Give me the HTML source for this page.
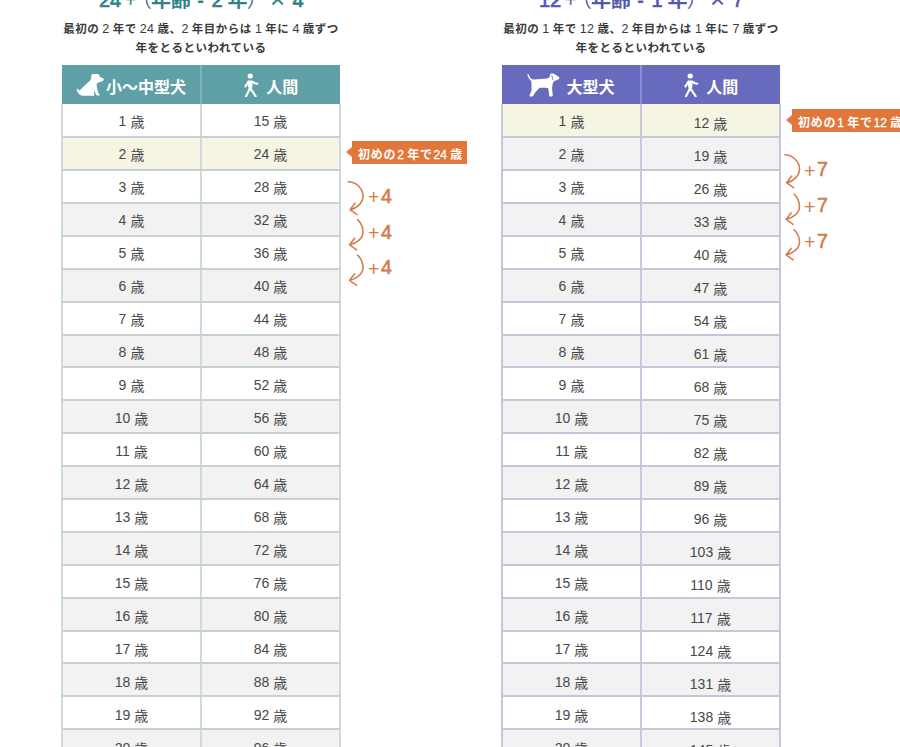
<!DOCTYPE html>
<html lang="ja"><head><meta charset="utf-8"><title>犬の年齢換算表</title>
<style>
*{box-sizing:border-box;margin:0;padding:0}
html,body{width:900px;height:747px;overflow:hidden;background:#fff}
body{position:relative;font-family:"Liberation Sans", "Noto Sans CJK JP", sans-serif;color:#444}
.panel{position:absolute;top:0;width:280px;height:747px}
.p1{left:61px} .p2{left:501px}
.ttl{position:absolute;left:0;top:0;width:280px;height:20px}
.ttl b{position:absolute;top:-10px;font-size:20px;line-height:20px;font-weight:bold;white-space:nowrap}
.ttl b.n{font-weight:normal}
.ttl b.d{font-weight:normal;-webkit-text-stroke:0.7px currentColor}
.ttl b.x{font-size:26px;top:-11px}
.ttl b.m{top:-10.5px}
.p1 .ttl{color:#337f8a} .p2 .ttl{color:#5558ad}
.sub i{font-style:normal;font-weight:400;font-size:12.5px;letter-spacing:0.3px}
.sub{position:absolute;left:-40px;width:360px;top:20px;text-align:center;font-size:11.5px;font-weight:700;line-height:18.5px;color:#3a3a3a;letter-spacing:0.5px;word-spacing:-0.6px;white-space:nowrap}
.tbl{position:absolute;left:0;top:65px;width:280px;height:700px}
.hd{position:absolute;left:1px;top:0;width:278px;height:39px}
.p1 .hd{background:#5fa0a7} .p2 .hd{background:#686abd}
.hd i{position:absolute;left:138px;top:0;width:2px;height:39px}
.p1 .hd i{background:#7db5bd} .p2 .hd i{background:#8a8fd8}
.th{position:absolute;top:0;height:39px;display:flex;align-items:center;justify-content:center;color:#fff;font-size:16px;font-weight:700;letter-spacing:0}
.th.c1{left:0;width:138px} .th.c2{left:140px;width:138px}
.th svg{flex:none}
.dogS{margin-right:2px} .walk{margin-right:7.5px} .dogL{margin-right:6px}
.th span{position:relative;top:1px}
.r{position:absolute;left:0;width:280px;border-top:2px solid;border-left:2px solid;border-right:2px solid}
.r.f{border-top:0}
.p1 .r{border-color:#c6d2d1} .p2 .r{border-color:#c6c6d8}
.p1 .r{border-left-color:#ccdadb;border-right-color:#ccdadb} .p2 .r{border-left-color:#c6c6de;border-right-color:#c6c6de}
.r.w{background:#fff} .r.g{background:#f2f2f2} .r.c{background:#f6f5e4}
.r i{position:absolute;left:137px;top:0;width:2px;height:100%}
.p1 .r i{background:#d0dadc} .p2 .r i{background:#c8c8de}
.t{position:absolute;height:24px;display:flex;align-items:center;justify-content:center;font-size:14px;line-height:24px;color:#484848;white-space:nowrap}
.t em{font-style:normal;position:relative;top:-1px}
.t.a{left:2px;width:137px} .t.b{left:141px;width:137px}
.p2 .t.b{margin-top:2px}
.t s{display:inline-block;width:4px}
.call{position:absolute;height:23px;background:#e1773b;color:#fff;font-size:12px;font-weight:bold;line-height:28.5px;padding-left:6px;white-space:nowrap;letter-spacing:0.8px}
.call u{text-decoration:none;letter-spacing:0;margin:0 3.3px 0 0.8px;font-weight:normal;-webkit-text-stroke:0.3px #fff}
.call:before{content:"";position:absolute;left:-6px;top:6px;border-right:6px solid #e1773b;border-top:5.5px solid transparent;border-bottom:5.5px solid transparent}
.plus{position:absolute;color:#cf7e4e;font-size:19.5px;line-height:20px;font-weight:normal;-webkit-text-stroke:0.6px #cf7e4e}
.plus i{font-style:normal;font-weight:normal;margin-right:1.5px;position:relative;top:1.3px;-webkit-text-stroke:0}
svg.arr{position:absolute;left:0;top:0}
</style></head><body>
<div class="panel p1">
<div class="ttl"><b class="d" style="left:38.0px">24</b><b class="n" style="left:63.8px">+</b><b class="n" style="left:70.7px">（</b><b class="" style="left:90.0px">年齢</b><b class="m" style="left:136.3px">-</b><b class="d" style="left:150.5px">2</b><b class="" style="left:166.5px">年</b><b class="n" style="left:185.8px">）</b><b class="n x" style="left:209.0px">×</b><b class="d" style="left:231.5px">4</b></div>
<div class="sub">最初の <i>2</i> 年で <i>24</i> 歳、<i>2</i> 年目からは <i>1</i> 年に <i>4</i> 歳ずつ<br>年をとるといわれている</div>
<div class="tbl">
<div class="hd"><div class="th c1"><svg class="dogS" width="28" height="24" viewBox="0 0 28 24"><path fill="#fff" d="M15.4 2.4 C15.6 1.4 16.4 1.0 17.4 1.0 L21.8 1.0 C22.8 1.0 23.2 1.8 23.4 3.0 C23.6 3.8 24.4 4.2 25.6 4.6 C26.8 5.0 27.8 5.6 27.8 6.6 C27.6 7.8 26.4 8.4 25 8.8 C23.6 9.2 22.4 9.4 21.6 10 C20.9 10.6 20.6 11.2 20.6 12 C20.9 15 21.6 18 22.6 20.3 C23.2 21.4 24 22 23.6 22.6 L20.8 22.6 C19.6 21 18.8 19 18 17.2 L18.2 22.7 L6.5 22.7 C4 22.4 2.2 20.8 1.3 18.6 C0.8 17.2 0.8 16 1.2 15.2 C2 16.6 3 17.4 4 17.2 C6.5 14.8 10 11 13.8 7.8 C14.3 7.4 14.8 6.8 15.0 6.0 C15.2 4.8 15.2 3.6 15.4 2.4 Z"/></svg><span>小～中型犬</span></div><i></i><div class="th c2"><svg class="walk" width="15" height="24" viewBox="0 0 15 24"><circle cx="6.2" cy="3.0" r="2.6" fill="#fff"/><path fill="#fff" d="M3.6 8.1 C4.5 7.3 7.9 7.3 8.8 8.1 L8.5 12 C8.3 14 7.9 15.5 7.5 16.8 L5.0 16.8 C4.6 15.5 4.2 14 4.0 12 Z"/><path fill="none" stroke="#fff" stroke-width="2.1" stroke-linecap="round" stroke-linejoin="round" d="M4.4 8.8 L1.5 13.4 M8.2 8.8 L11 10.2 L13.2 10.7 M5.7 16 L2.0 23.3 M6.9 16 L11.7 23.3"/></svg><span>人間</span></div></div>
<div class="r w f" style="top:39px;height:32px"><i></i></div>
<div class="r c" style="top:71px;height:33px"><i></i></div>
<div class="r w" style="top:104px;height:33px"><i></i></div>
<div class="r g" style="top:137px;height:33px"><i></i></div>
<div class="r w" style="top:170px;height:33px"><i></i></div>
<div class="r g" style="top:203px;height:33px"><i></i></div>
<div class="r w" style="top:236px;height:33px"><i></i></div>
<div class="r g" style="top:269px;height:32px"><i></i></div>
<div class="r w" style="top:301px;height:33px"><i></i></div>
<div class="r g" style="top:334px;height:33px"><i></i></div>
<div class="r w" style="top:367px;height:33px"><i></i></div>
<div class="r g" style="top:400px;height:33px"><i></i></div>
<div class="r w" style="top:433px;height:33px"><i></i></div>
<div class="r g" style="top:466px;height:33px"><i></i></div>
<div class="r w" style="top:499px;height:33px"><i></i></div>
<div class="r g" style="top:532px;height:33px"><i></i></div>
<div class="r w" style="top:565px;height:32px"><i></i></div>
<div class="r g" style="top:597px;height:33px"><i></i></div>
<div class="r w" style="top:630px;height:33px"><i></i></div>
<div class="r g" style="top:663px;height:33px"><i></i></div>
<span class="t a" style="top:45px"><em>1</em><s></s>歳</span><span class="t b" style="top:45px"><em>15</em><s></s>歳</span>
<span class="t a" style="top:78px"><em>2</em><s></s>歳</span><span class="t b" style="top:78px"><em>24</em><s></s>歳</span>
<span class="t a" style="top:111px"><em>3</em><s></s>歳</span><span class="t b" style="top:111px"><em>28</em><s></s>歳</span>
<span class="t a" style="top:144px"><em>4</em><s></s>歳</span><span class="t b" style="top:144px"><em>32</em><s></s>歳</span>
<span class="t a" style="top:177px"><em>5</em><s></s>歳</span><span class="t b" style="top:177px"><em>36</em><s></s>歳</span>
<span class="t a" style="top:210px"><em>6</em><s></s>歳</span><span class="t b" style="top:210px"><em>40</em><s></s>歳</span>
<span class="t a" style="top:243px"><em>7</em><s></s>歳</span><span class="t b" style="top:243px"><em>44</em><s></s>歳</span>
<span class="t a" style="top:276px"><em>8</em><s></s>歳</span><span class="t b" style="top:276px"><em>48</em><s></s>歳</span>
<span class="t a" style="top:309px"><em>9</em><s></s>歳</span><span class="t b" style="top:309px"><em>52</em><s></s>歳</span>
<span class="t a" style="top:342px"><em>10</em><s></s>歳</span><span class="t b" style="top:342px"><em>56</em><s></s>歳</span>
<span class="t a" style="top:375px"><em>11</em><s></s>歳</span><span class="t b" style="top:375px"><em>60</em><s></s>歳</span>
<span class="t a" style="top:408px"><em>12</em><s></s>歳</span><span class="t b" style="top:408px"><em>64</em><s></s>歳</span>
<span class="t a" style="top:441px"><em>13</em><s></s>歳</span><span class="t b" style="top:441px"><em>68</em><s></s>歳</span>
<span class="t a" style="top:474px"><em>14</em><s></s>歳</span><span class="t b" style="top:474px"><em>72</em><s></s>歳</span>
<span class="t a" style="top:507px"><em>15</em><s></s>歳</span><span class="t b" style="top:507px"><em>76</em><s></s>歳</span>
<span class="t a" style="top:540px"><em>16</em><s></s>歳</span><span class="t b" style="top:540px"><em>80</em><s></s>歳</span>
<span class="t a" style="top:573px"><em>17</em><s></s>歳</span><span class="t b" style="top:573px"><em>84</em><s></s>歳</span>
<span class="t a" style="top:606px"><em>18</em><s></s>歳</span><span class="t b" style="top:606px"><em>88</em><s></s>歳</span>
<span class="t a" style="top:639px"><em>19</em><s></s>歳</span><span class="t b" style="top:639px"><em>92</em><s></s>歳</span>
<span class="t a" style="top:672px"><em>20</em><s></s>歳</span><span class="t b" style="top:672px"><em>96</em><s></s>歳</span>
</div>
</div>
<div class="panel p2">
<div class="ttl"><b class="d" style="left:38.0px">12</b><b class="n" style="left:63.8px">+</b><b class="n" style="left:70.7px">（</b><b class="" style="left:90.0px">年齢</b><b class="m" style="left:136.3px">-</b><b class="d" style="left:150.5px">1</b><b class="" style="left:166.5px">年</b><b class="n" style="left:185.8px">）</b><b class="n x" style="left:209.0px">×</b><b class="d" style="left:231.5px">7</b></div>
<div class="sub">最初の <i>1</i> 年で <i>12</i> 歳、<i>2</i> 年目からは <i>1</i> 年に <i>7</i> 歳ずつ<br>年をとるといわれている</div>
<div class="tbl">
<div class="hd"><div class="th c1"><svg class="dogL" width="33" height="24" viewBox="0 0 33 24"><path fill="#fff" d="M0.9 1.2 C1.6 1.0 2.0 1.6 2.2 2.4 C2.8 4.8 4.4 6.4 7.2 6.6 L20 5.6 C21.5 5.2 22.6 4.4 22.8 3.2 C22.6 1.6 23.2 0.6 24.8 0.5 C26.5 0.4 27.6 1.0 28.6 1.8 C29.8 2.6 31.2 3.2 32.2 4.2 C32.6 4.8 32.2 5.8 31.2 6.4 C30.2 7.0 29 7.4 27.8 7.8 C26.8 8.4 26.0 9.6 25.6 11.2 C25.2 13 25.0 15.5 25.3 18 L25.8 22.6 C25.9 23.2 25.4 23.5 24.8 23.5 L22.8 23.5 C22.4 23.5 22.2 23.2 22.2 22.8 L21.6 17.5 C21.4 16.2 21.2 15.4 20.6 15.1 C18 14.6 15 14.6 12.8 14.8 C11.2 16 9.4 18.4 7.6 20.4 L6.2 22.8 C6 23.3 5.6 23.5 5 23.5 L3 23.5 C2.5 23.5 2.3 23.1 2.5 22.6 L4.4 17.8 C4.8 16.5 4.6 13 4.4 10.5 C4.3 9.4 4.2 8.6 4.4 8.2 C2.6 7.0 1.2 4.6 0.4 2.0 C0.3 1.6 0.5 1.2 0.9 1.2 Z"/><path fill="none" stroke="#686abd" stroke-width="0.9" stroke-linecap="round" d="M24.6 2.6 C25.4 3.6 25.8 5 25.6 6.4"/></svg><span>大型犬</span></div><i></i><div class="th c2"><svg class="walk" width="15" height="24" viewBox="0 0 15 24"><circle cx="6.2" cy="3.0" r="2.6" fill="#fff"/><path fill="#fff" d="M3.6 8.1 C4.5 7.3 7.9 7.3 8.8 8.1 L8.5 12 C8.3 14 7.9 15.5 7.5 16.8 L5.0 16.8 C4.6 15.5 4.2 14 4.0 12 Z"/><path fill="none" stroke="#fff" stroke-width="2.1" stroke-linecap="round" stroke-linejoin="round" d="M4.4 8.8 L1.5 13.4 M8.2 8.8 L11 10.2 L13.2 10.7 M5.7 16 L2.0 23.3 M6.9 16 L11.7 23.3"/></svg><span>人間</span></div></div>
<div class="r c f" style="top:39px;height:32px"><i></i></div>
<div class="r g" style="top:71px;height:33px"><i></i></div>
<div class="r w" style="top:104px;height:33px"><i></i></div>
<div class="r g" style="top:137px;height:33px"><i></i></div>
<div class="r w" style="top:170px;height:33px"><i></i></div>
<div class="r g" style="top:203px;height:33px"><i></i></div>
<div class="r w" style="top:236px;height:33px"><i></i></div>
<div class="r g" style="top:269px;height:32px"><i></i></div>
<div class="r w" style="top:301px;height:33px"><i></i></div>
<div class="r g" style="top:334px;height:33px"><i></i></div>
<div class="r w" style="top:367px;height:33px"><i></i></div>
<div class="r g" style="top:400px;height:33px"><i></i></div>
<div class="r w" style="top:433px;height:33px"><i></i></div>
<div class="r g" style="top:466px;height:33px"><i></i></div>
<div class="r w" style="top:499px;height:33px"><i></i></div>
<div class="r g" style="top:532px;height:33px"><i></i></div>
<div class="r w" style="top:565px;height:32px"><i></i></div>
<div class="r g" style="top:597px;height:33px"><i></i></div>
<div class="r w" style="top:630px;height:33px"><i></i></div>
<div class="r g" style="top:663px;height:33px"><i></i></div>
<span class="t a" style="top:45px"><em>1</em><s></s>歳</span><span class="t b" style="top:45px"><em>12</em><s></s>歳</span>
<span class="t a" style="top:78px"><em>2</em><s></s>歳</span><span class="t b" style="top:78px"><em>19</em><s></s>歳</span>
<span class="t a" style="top:111px"><em>3</em><s></s>歳</span><span class="t b" style="top:111px"><em>26</em><s></s>歳</span>
<span class="t a" style="top:144px"><em>4</em><s></s>歳</span><span class="t b" style="top:144px"><em>33</em><s></s>歳</span>
<span class="t a" style="top:177px"><em>5</em><s></s>歳</span><span class="t b" style="top:177px"><em>40</em><s></s>歳</span>
<span class="t a" style="top:210px"><em>6</em><s></s>歳</span><span class="t b" style="top:210px"><em>47</em><s></s>歳</span>
<span class="t a" style="top:243px"><em>7</em><s></s>歳</span><span class="t b" style="top:243px"><em>54</em><s></s>歳</span>
<span class="t a" style="top:276px"><em>8</em><s></s>歳</span><span class="t b" style="top:276px"><em>61</em><s></s>歳</span>
<span class="t a" style="top:309px"><em>9</em><s></s>歳</span><span class="t b" style="top:309px"><em>68</em><s></s>歳</span>
<span class="t a" style="top:342px"><em>10</em><s></s>歳</span><span class="t b" style="top:342px"><em>75</em><s></s>歳</span>
<span class="t a" style="top:375px"><em>11</em><s></s>歳</span><span class="t b" style="top:375px"><em>82</em><s></s>歳</span>
<span class="t a" style="top:408px"><em>12</em><s></s>歳</span><span class="t b" style="top:408px"><em>89</em><s></s>歳</span>
<span class="t a" style="top:441px"><em>13</em><s></s>歳</span><span class="t b" style="top:441px"><em>96</em><s></s>歳</span>
<span class="t a" style="top:474px"><em>14</em><s></s>歳</span><span class="t b" style="top:474px"><em>103</em><s></s>歳</span>
<span class="t a" style="top:507px"><em>15</em><s></s>歳</span><span class="t b" style="top:507px"><em>110</em><s></s>歳</span>
<span class="t a" style="top:540px"><em>16</em><s></s>歳</span><span class="t b" style="top:540px"><em>117</em><s></s>歳</span>
<span class="t a" style="top:573px"><em>17</em><s></s>歳</span><span class="t b" style="top:573px"><em>124</em><s></s>歳</span>
<span class="t a" style="top:606px"><em>18</em><s></s>歳</span><span class="t b" style="top:606px"><em>131</em><s></s>歳</span>
<span class="t a" style="top:639px"><em>19</em><s></s>歳</span><span class="t b" style="top:639px"><em>138</em><s></s>歳</span>
<span class="t a" style="top:672px"><em>20</em><s></s>歳</span><span class="t b" style="top:672px"><em>145</em><s></s>歳</span>
</div>
</div>
<div class="call" style="left:352px;top:141px;width:115px">初めの<u>2</u>年で<u>24</u>歳</div>
<div class="call" style="left:792px;top:109px;width:120px">初めの<u>1</u>年で<u>12</u>歳</div>
<svg class="arr" width="900" height="747" viewBox="0 0 900 747"><path fill="none" stroke="#d27f52" stroke-width="1.6" stroke-linecap="round" stroke-linejoin="round" d="M348.3 181.8 C357.0 182.0 363.0 189.5 363.0 196.0 C363.0 202.5 357.0 208.5 350.0 209.7 M355.0 203.2 L350.0 209.7 L357.0 214.7 M357.7 219.6 C361.5 223.4 363.0 227.4 363.0 231.9 C363.0 237.9 357.0 243.4 349.6 244.8 M354.6 238.3 L349.6 244.8 L356.6 249.8 M357.7 255.1 C361.5 258.9 363.0 262.9 363.0 267.4 C363.0 273.4 357.0 278.9 349.6 280.3 M354.6 273.8 L349.6 280.3 L356.6 285.3 M784.8 154.8 C793.5 155.0 799.5 162.5 799.5 169.0 C799.5 175.5 793.5 181.5 786.5 182.7 M791.5 176.2 L786.5 182.7 L793.5 187.7 M794.2 194.2 C798.0 198.0 799.5 202.0 799.5 206.5 C799.5 212.5 793.5 218.0 786.1 219.4 M791.1 212.9 L786.1 219.4 L793.1 224.4 M794.2 229.7 C798.0 233.5 799.5 237.5 799.5 242.0 C799.5 248.0 793.5 253.5 786.1 254.9 M791.1 248.4 L786.1 254.9 L793.1 259.9"/></svg>
<div class="plus" style="left:368px;top:186.0px"><i>+</i>4</div>
<div class="plus" style="left:368px;top:221.9px"><i>+</i>4</div>
<div class="plus" style="left:368px;top:257.4px"><i>+</i>4</div>
<div class="plus" style="left:804px;top:159.3px"><i>+</i>7</div>
<div class="plus" style="left:804px;top:195.3px"><i>+</i>7</div>
<div class="plus" style="left:804px;top:231.0px"><i>+</i>7</div>
</body></html>
